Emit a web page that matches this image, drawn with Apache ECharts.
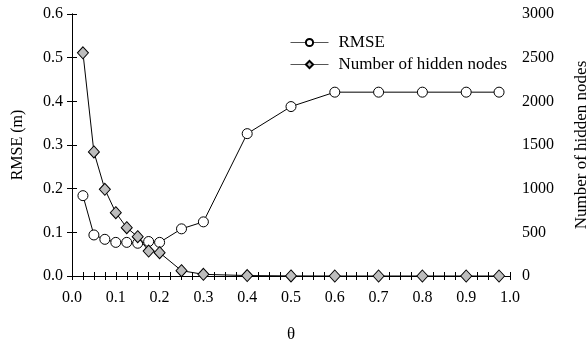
<!DOCTYPE html>
<html>
<head>
<meta charset="utf-8">
<script src="https://cdn.jsdelivr.net/npm/echarts@6/dist/echarts.min.js"></script>
<style>html,body{margin:0;padding:0;background:#fff}#c{width:588px;height:342px}</style>
</head>
<body>
<div id="c"></div>
<script>
var theta = [0.025, 0.05, 0.075, 0.1, 0.125, 0.15, 0.175, 0.2, 0.25, 0.3, 0.4, 0.5, 0.6, 0.7, 0.8, 0.9, 0.975];
var rmse = [0.184, 0.094, 0.084, 0.077, 0.077, 0.075, 0.079, 0.077, 0.108, 0.124, 0.326, 0.388, 0.421, 0.421, 0.421, 0.421, 0.421];
var hiddenNodes = [2555, 1420, 993, 725, 553, 450, 286, 267, 61, 19, 5, 1, 0, 0, 0, 0, 0];
var seriesNames = ['RMSE', 'Number of hidden nodes'];
var xName = 'θ';
var yLeftName = 'RMSE (m)';
var yRightName = 'Number of hidden nodes';

var FONT = '"Liberation Serif", "DejaVu Serif", serif';
function pairs(xs, ys) { return xs.map(function (x, i) { return [x, ys[i]]; }); }
var axisLine = { show: true, lineStyle: { color: '#000', width: 1 } };
var chart = echarts.init(document.getElementById('c'));
chart.setOption({
  animation: false,
  backgroundColor: '#fff',
  grid: { left: 72, right: 78, top: 14, bottom: 66, containLabel: false, outerBoundsMode: 'none' },
  legend: {
    orient: 'vertical', left: 285, top: 29,
    itemWidth: 38, itemHeight: 9, itemGap: 5,
    lineStyle: { width: 1, color: '#555' },
    textStyle: { fontFamily: FONT, fontSize: 17, color: '#000', padding: [0, 0, 0, 5] },
    data: seriesNames
  },
  xAxis: [{
    type: 'value', position: 'bottom', min: 0, max: 1, interval: 0.1,
    name: xName, nameLocation: 'middle', nameGap: 50,
    nameTextStyle: { fontFamily: FONT, fontSize: 17, color: '#000' },
    axisLine: axisLine,
    axisTick: { show: true, inside: true, length: 4, lineStyle: { color: '#000' } },
    minorTick: { show: true, splitNumber: 4, length: 4, lineStyle: { color: '#000' } },
    axisLabel: { fontFamily: FONT, fontSize: 16, color: '#000', margin: 14, formatter: function (v) { return v.toFixed(1); } },
    splitLine: { show: false }
  }, {
    type: 'value', position: 'top', min: 0, max: 1, interval: 0.1,
    axisLine: axisLine,
    axisTick: { show: true, inside: true, length: 4, lineStyle: { color: '#000' } },
    minorTick: { show: true, splitNumber: 4, length: 4, lineStyle: { color: '#000' } },
    axisLabel: { show: false },
    splitLine: { show: false }
  }],
  yAxis: [{
    type: 'value', position: 'left', min: 0, max: 0.6, interval: 0.1,
    name: yLeftName, nameLocation: 'middle', nameGap: 46,
    nameTextStyle: { fontFamily: FONT, fontSize: 16, color: '#000' },
    axisLine: axisLine,
    axisTick: { show: true, inside: false, length: 5, lineStyle: { color: '#000' } },
    axisLabel: { fontFamily: FONT, fontSize: 16, color: '#000', margin: 9, formatter: function (v) { return v.toFixed(1); } },
    splitLine: { show: false }
  }, {
    type: 'value', position: 'right', min: 0, max: 3000, interval: 500,
    name: yRightName, nameLocation: 'middle', nameGap: 63,
    nameTextStyle: { fontFamily: FONT, fontSize: 17, color: '#000' },
    axisLine: axisLine,
    axisTick: { show: true, inside: false, length: 5, lineStyle: { color: '#000' } },
    axisLabel: { fontFamily: FONT, fontSize: 16, color: '#000', margin: 12, formatter: function (v) { return String(v); } },
    splitLine: { show: false }
  }],
  series: [{
    name: seriesNames[0], type: 'line', xAxisIndex: 0, yAxisIndex: 0,
    data: pairs(theta, rmse),
    symbol: 'circle', symbolSize: 10, z: 2,
    lineStyle: { color: '#000', width: 1 },
    itemStyle: { color: '#fff', borderColor: '#000', borderWidth: 1 }
  }, {
    name: seriesNames[1], type: 'line', xAxisIndex: 0, yAxisIndex: 1,
    data: pairs(theta, hiddenNodes),
    symbol: 'diamond', symbolSize: [11, 12], z: 3,
    lineStyle: { color: '#000', width: 1 },
    itemStyle: { color: '#bdbdbd', borderColor: '#000', borderWidth: 1 }
  }]
});
</script>
</body>
</html>
